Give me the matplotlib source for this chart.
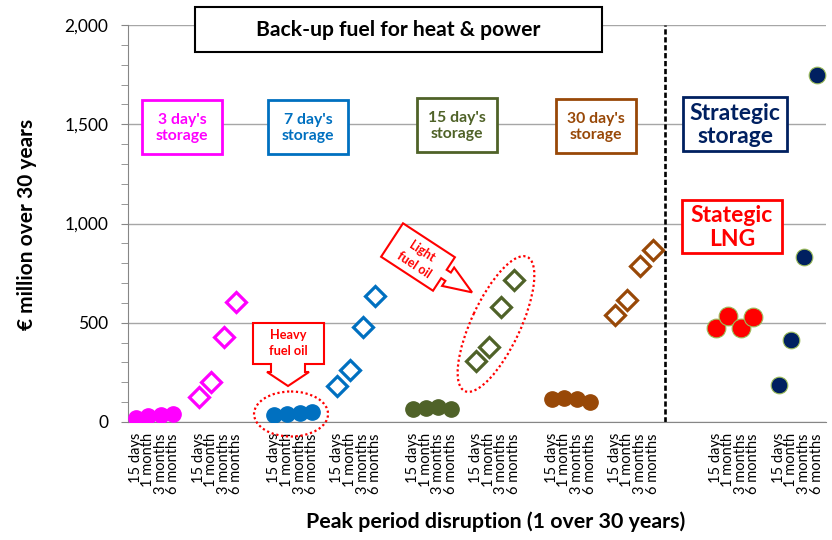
import numpy as np
import matplotlib
matplotlib.use("Agg")
import matplotlib.pyplot as plt
from matplotlib.patches import Rectangle, Ellipse, Polygon
from matplotlib.transforms import Affine2D
from matplotlib.ticker import MultipleLocator, FuncFormatter

plt.rcParams['font.family'] = ['Lato', 'DejaVu Sans']

W, H = 832, 540

# --- Data (€ million over 30 years) ---
periods = ["15 days", "1 month", "3 months", "6 months"]

hfo_3d = [22, 28, 35, 42]
lfo_3d = [125, 200, 428, 603]
hfo_7d = [35, 40, 45, 50]
lfo_7d = [182, 262, 478, 635]
hfo_15d = [65, 70, 75, 65]
lfo_15d = [305, 380, 580, 715]
hfo_30d = [118, 122, 118, 100]
lfo_30d = [540, 615, 785, 865]
lng_strategic = [473, 533, 476, 530]
storage_strategic = [185, 413, 833, 1750]

# empty category slots in front of each group
gaps = [0, 1, 2, 1, 2, 1, 2, 1, 4, 1]

MAGENTA, BLUE, GREEN, BROWN = '#FF00FF', '#0070C0', '#4F6228', '#984807'
RED, NAVY = '#FF0000', '#002060'

series = [
    (hfo_3d, MAGENTA, 'circle'),
    (lfo_3d, MAGENTA, 'diamond'),
    (hfo_7d, BLUE, 'circle'),
    (lfo_7d, BLUE, 'diamond'),
    (hfo_15d, GREEN, 'circle'),
    (lfo_15d, GREEN, 'diamond'),
    (hfo_30d, BROWN, 'circle'),
    (lfo_30d, BROWN, 'diamond'),
    (lng_strategic, RED, 'lng'),
    (storage_strategic, NAVY, 'strategic'),
]

fig = plt.figure(figsize=(W / 100, H / 100), dpi=100)
ax = fig.add_axes([128 / W, 1 - 422 / H, (826 - 128) / W, (422 - 25) / H])

# pixel coords measured from the top-left corner of the image
px = Affine2D().scale(1 / W, -1 / H).translate(0, 1) + fig.transFigure

starts = []
tick_pos, tick_lab = [], []
pos = 0
for (vals, color, kind), gap in zip(series, gaps):
    pos += gap
    starts.append(pos)
    x = pos + np.arange(len(vals))
    tick_pos += list(x)
    tick_lab += periods
    pos += len(vals)
    if kind == 'circle':
        for xi, yi in zip(x, vals):
            ax.plot(xi, yi, 'o', ms=11, color=color, mec=color, zorder=3)
    elif kind == 'diamond':
        for xi, yi in zip(x, vals):
            ax.plot(xi, yi, 'D', ms=10, mfc='white', mec=color, mew=2.3, zorder=3)
    elif kind == 'lng':
        for xi, yi in zip(x, vals):
            ax.plot(xi, yi, 'o', ms=13.5, color=color, mec='#9BBB59', mew=0.8, zorder=3)
    else:
        for xi, yi in zip(x, vals):
            ax.plot(xi, yi, 'o', ms=12, color=color, mec='#9BBB59', mew=0.8, zorder=3)

# divider between back-up fuel and strategic options
divider = starts[8] - gaps[8]
ax.axvline(divider, color='black', lw=1.9, ls=(0, (2, 1)), zorder=2)

ax.set_xlim(-0.6, 54.75)
ax.set_ylim(0, 2000)
ax.yaxis.set_major_locator(MultipleLocator(500))
ax.yaxis.set_minor_locator(MultipleLocator(100))
ax.yaxis.set_major_formatter(FuncFormatter(lambda v, p: f'{int(v):,}'))
ax.grid(axis='y', which='major', color='#A6A6A6', lw=1, zorder=0)
ax.set_axisbelow(True)
for s in ['top', 'right']:
    ax.spines[s].set_visible(False)
for s in ['left', 'bottom']:
    ax.spines[s].set_color('#868686')
ax.tick_params(axis='y', which='both', length=5, color='#868686', labelsize=12.5, pad=9)
ax.set_xticks(tick_pos)
ax.set_xticklabels(tick_lab, rotation=90, fontsize=10.5)
ax.tick_params(axis='x', length=0, pad=8)

fig.text(27, 224, '€ million over 30 years', transform=px, rotation=90,
         ha='center', va='center', fontsize=15, fontweight='bold')
fig.text(496, 522, 'Peak period disruption (1 over 30 years)', transform=px,
         ha='center', va='center', fontsize=15.4, fontweight='bold')


def label_box(x0, y0, x1, y1, text, color, fs, lw=2, tcolor=None, ls=1.25):
    fig.patches.append(Rectangle((x0, y0), x1 - x0, y1 - y0, transform=px,
                                 facecolor='white', edgecolor=color, lw=lw))
    fig.text((x0 + x1) / 2, (y0 + y1) / 2 + 1, text, transform=px, ha='center',
             va='center', color=tcolor or color, fontsize=fs,
             fontweight='bold', linespacing=ls)


label_box(195, 7, 602, 52, 'Back-up fuel for heat & power', 'black', 15.2, 1.5)
label_box(142, 100, 222, 154, "3 day's\nstorage", MAGENTA, 11.3)
label_box(268, 100, 348, 154, "7 day's\nstorage", BLUE, 11.3)
label_box(417, 98, 497, 152, "15 day's\nstorage", GREEN, 11.3)
label_box(556, 99, 636, 153, "30 day's\nstorage", BROWN, 11.3)
label_box(683, 97, 787, 151, "Strategic\nstorage", NAVY, 16.5, ls=1.15)
label_box(682, 200, 782, 253, "Stategic\nLNG", RED, 16.5, ls=1.15)

# heavy fuel oil callout
heavy = [(253, 323), (324, 323), (324, 364), (305, 364), (305, 372), (309, 372),
         (288, 386), (267, 372), (271, 372), (271, 364), (253, 364)]
fig.patches.append(Polygon(heavy, closed=True, transform=px, facecolor='white',
                           edgecolor=RED, lw=1.5))
fig.text(288, 343, 'Heavy\nfuel oil', transform=px, ha='center', va='center',
         color=RED, fontsize=9.2, fontweight='bold', linespacing=1.4)

# light fuel oil callout (tilted)
a = np.deg2rad(33.2)
cx, cy = 418, 257
eu = np.array([np.cos(a), np.sin(a)])
ev = np.array([-np.sin(a), np.cos(a)])
local = [(-31, -20), (31, -20), (31, -5), (36, -5), (36, -11), (64.6, 0),
         (36, 11), (36, 5), (31, 5), (31, 20), (-31, 20)]
light = [tuple(np.array([cx, cy]) + u * eu + v * ev) for u, v in local]
fig.patches.append(Polygon(light, closed=True, transform=px, facecolor='white',
                           edgecolor=RED, lw=1.5))
fig.text(cx, cy + 1, 'Light\nfuel oil', transform=px, ha='center', va='center',
         color=RED, fontsize=9, fontweight='bold', linespacing=1.35,
         rotation=-33, rotation_mode='anchor')

# dotted rings around the highlighted groups
fig.patches.append(Ellipse((291, 414), 74, 45, transform=px, fill=False,
                           edgecolor=RED, lw=1.6, ls=(0, (1, 1.2))))
fig.patches.append(Ellipse((496, 324), 148, 49, angle=-65, transform=px, fill=False,
                           edgecolor=RED, lw=1.6, ls=(0, (1, 1.2))))

fig.savefig('out.png', dpi=100, facecolor='white')
